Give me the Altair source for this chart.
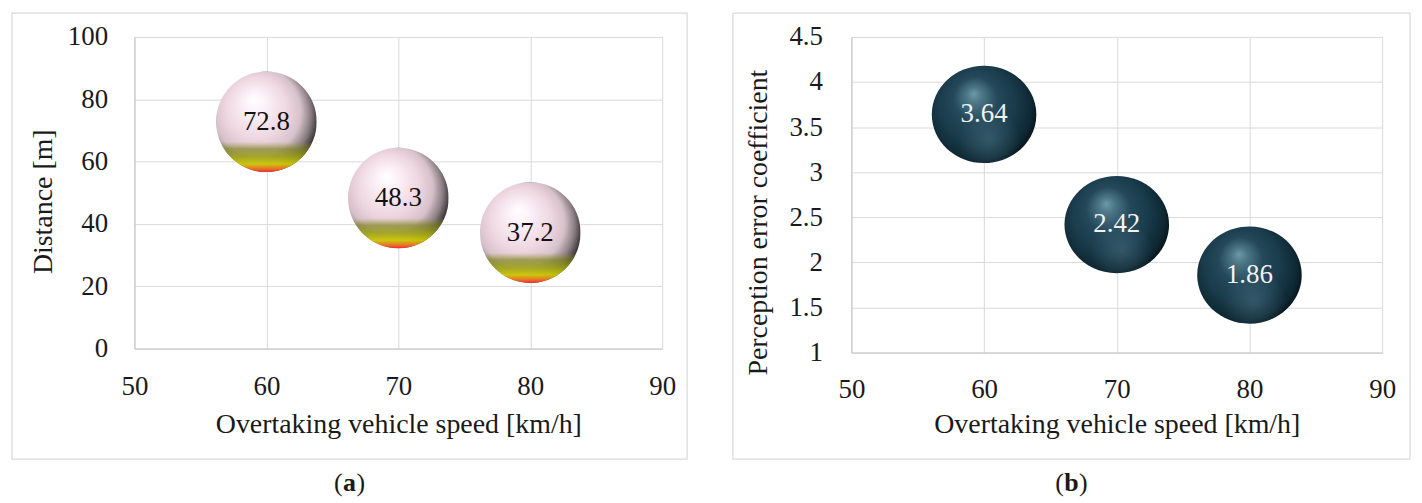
import pandas as pd
import altair as alt

# --- values ---
speed = [60, 70, 80]
distance = [72.8, 48.3, 37.2]
perception = [3.64, 2.42, 1.86]

x_ticks = [50, 60, 70, 80, 90]
dist_ticks = [0, 20, 40, 60, 80, 100]
perc_ticks = [1, 1.5, 2, 2.5, 3, 3.5, 4, 4.5]

FONT = "Liberation Serif"
INK = "#1a1a1a"
GRID = "#d9d9d9"

# sphere shading (radial body + overlays)
pink_body = {
    "gradient": "radial", "x1": 0.38, "y1": 0.28, "r1": 0.0,
    "x2": 0.42, "y2": 0.45, "r2": 0.62,
    "stops": [
        {"offset": 0.0, "color": "#ffffff"},
        {"offset": 0.2, "color": "#fbeff6"},
        {"offset": 0.5, "color": "#eed6e0"},
        {"offset": 0.7, "color": "#d6c1c9"},
        {"offset": 0.85, "color": "#8a7e83"},
        {"offset": 1.0, "color": "#1e1a1c"},
    ],
}
pink_band = {
    "gradient": "linear", "x1": 0, "y1": 0, "x2": 0, "y2": 1,
    "stops": [
        {"offset": 0.0, "color": "rgba(0,0,0,0)"},
        {"offset": 0.70, "color": "rgba(150,150,40,0)"},
        {"offset": 0.77, "color": "rgba(125,130,25,0.65)"},
        {"offset": 0.85, "color": "rgba(160,165,15,0.85)"},
        {"offset": 0.92, "color": "rgba(210,205,0,0.9)"},
        {"offset": 0.97, "color": "rgba(235,110,40,1)"},
        {"offset": 1.0, "color": "rgba(235,45,45,1)"},
    ],
}
navy_body = {
    "gradient": "radial", "x1": 0.4, "y1": 0.3, "r1": 0.0,
    "x2": 0.45, "y2": 0.45, "r2": 0.6,
    "stops": [
        {"offset": 0.0, "color": "#6f98a8"},
        {"offset": 0.12, "color": "#4d7888"},
        {"offset": 0.35, "color": "#24495a"},
        {"offset": 0.6, "color": "#1a3c4c"},
        {"offset": 0.85, "color": "#0e2833"},
        {"offset": 1.0, "color": "#040c10"},
    ],
}
navy_glow = {
    "gradient": "radial", "x1": 0.55, "y1": 0.75, "r1": 0.0,
    "x2": 0.55, "y2": 0.75, "r2": 0.3,
    "stops": [
        {"offset": 0.0, "color": "rgba(90,130,150,0.4)"},
        {"offset": 1.0, "color": "rgba(90,130,150,0)"},
    ],
}

CIRCLE = "M -1 0 A 1 1 0 1 1 1 0 A 1 1 0 1 1 -1 0 Z"
ELLIPSE = "M -1 0 A 1 0.93 0 1 1 1 0 A 1 0.93 0 1 1 -1 0 Z"


def panel(values, y_title, y_ticks, y_domain, body, overlay, text_color,
          shape, size, w, h, y_lab_pad, y_title_xy, x_lab_pad, x_title_y,
          frame, caption, text_fmt):
    df = pd.DataFrame({"speed": speed, "value": values})
    one = pd.DataFrame({"k": [0]})

    x = alt.X("speed:Q", scale=alt.Scale(domain=[50, 90], nice=False),
              axis=alt.Axis(values=x_ticks, title="Overtaking vehicle speed [km/h]",
                            ticks=False, tickSize=0, labelPadding=x_lab_pad,
                            labelBaseline="middle", labelFlush=False,
                            titleY=x_title_y, titleBaseline="middle"))
    y = alt.Y("value:Q", scale=alt.Scale(domain=y_domain, nice=False, zero=False),
              axis=alt.Axis(values=y_ticks, format=".1~f", title=y_title,
                            ticks=False, tickSize=0, labelPadding=y_lab_pad,
                            labelFlush=False,
                            titleX=y_title_xy[0], titleY=y_title_xy[1],
                            titleAlign="center", titleBaseline="middle"))

    base = alt.Chart(df).encode(x=x, y=y)
    spheres = base.mark_point(shape=shape, size=size, filled=True, fill=body,
                              opacity=1, strokeWidth=0)
    shade = base.mark_point(shape=shape, size=size, filled=True, fill=overlay,
                            opacity=1, strokeWidth=0)
    labels = base.mark_text(font=FONT, fontSize=27, color=text_color).encode(
        text=alt.Text("value:Q", format=text_fmt))

    fx0, fx1, fy0, fy1 = frame
    box = alt.Chart(one).mark_rect(fillOpacity=0, stroke=GRID, strokeWidth=1.2).encode(
        x=alt.value(fx0), x2=alt.value(fx1), y=alt.value(fy0), y2=alt.value(fy1))

    cx, cy, letter, half = caption
    cap_l = alt.Chart(one).mark_text(font=FONT, fontSize=26, color=INK, align="right",
                                     baseline="middle").encode(
        x=alt.value(cx - half), y=alt.value(cy), text=alt.value("("))
    cap_m = alt.Chart(one).mark_text(font=FONT, fontSize=26, color=INK, align="center",
                                     baseline="middle", fontWeight="bold").encode(
        x=alt.value(cx), y=alt.value(cy), text=alt.value(letter))
    cap_r = alt.Chart(one).mark_text(font=FONT, fontSize=26, color=INK, align="left",
                                     baseline="middle").encode(
        x=alt.value(cx + half), y=alt.value(cy), text=alt.value(")"))

    return alt.layer(box, spheres, shade, labels, cap_l, cap_m, cap_r).properties(
        width=w, height=h)


left = panel(distance, "Distance [m]", dist_ticks, [0, 100],
             pink_body, pink_band, "#111111", CIRCLE, 101 ** 2,
             530, 313, 27, (-91, 165), 38, 76,
             (-123, 555, -24, 424), (216, 448, "a", 7), ".1f")

right = panel(perception, "Perception error coefficient", perc_ticks, [1, 4.5],
              navy_body, navy_glow, "#f2f2f2", ELLIPSE, 105 ** 2,
              533, 317, 29, (-93, 186), 37, 72,
              (-119, 561, -24, 424), (221, 448, "b", 7.5), ".2f")

chart = alt.hconcat(left, right, spacing=44).properties(
    padding={"left": 3, "top": 3, "right": 3, "bottom": 3},
    background="white",
).configure_view(stroke=None).configure_axis(
    labelFont=FONT, titleFont=FONT, labelFontSize=27, titleFontSize=28,
    labelColor=INK, titleColor=INK, titleFontWeight="normal",
    gridColor=GRID, gridWidth=1, domainColor="#c4c4c4", domainWidth=1,
)

chart.save("out.html", embed_options={"renderer": "svg", "actions": False})
